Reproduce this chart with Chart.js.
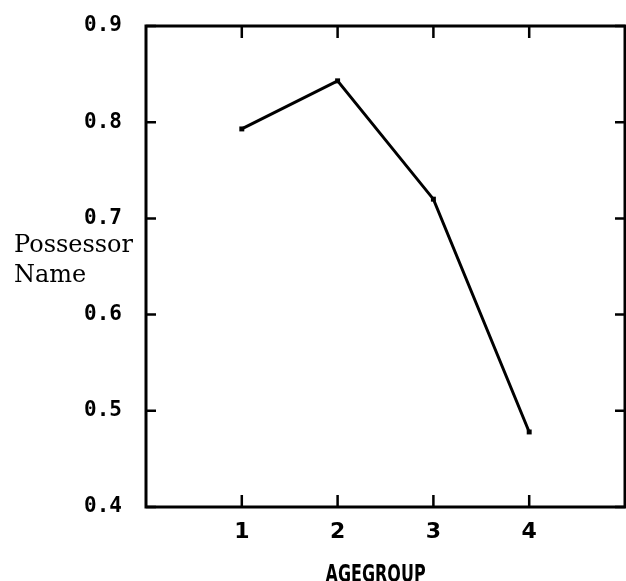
<!DOCTYPE html>
<html>
<head>
<meta charset="utf-8">
<script src="https://cdn.jsdelivr.net/npm/chart.js@4.4.1/dist/chart.umd.min.js"></script>
<style>
  html, body { margin: 0; padding: 0; background: #fff; }
  #wrap { width: 626px; height: 581px; position: relative; }
</style>
</head>
<body>
<div id="wrap"><canvas id="chart"></canvas></div>
<script>
// data
const ageGroups = [1, 2, 3, 4];
const possessorName = [0.793, 0.843, 0.720, 0.478];
const xTickValues = [1, 2, 3, 4];
const yTickValues = [0.4, 0.5, 0.6, 0.7, 0.8, 0.9];
const xTitle = 'AGEGROUP';
const yTitleLines = ['Possessor', 'Name'];

// box around the plot, inward tick marks, axis titles
const framePlugin = {
    id: 'frame',
    afterDraw(chart) {
        const { ctx, chartArea: a, scales } = chart;
        ctx.save();
        ctx.strokeStyle = '#000';
        ctx.lineWidth = 3;
        ctx.strokeRect(a.left, a.top, a.right - a.left, a.bottom - a.top);

        ctx.lineWidth = 2.5;
        ctx.beginPath();
        xTickValues.forEach(v => {
            const px = scales.x.getPixelForValue(v);
            ctx.moveTo(px, a.bottom); ctx.lineTo(px, a.bottom - 12);
            ctx.moveTo(px, a.top); ctx.lineTo(px, a.top + 12);
        });
        yTickValues.forEach(v => {
            const py = scales.y.getPixelForValue(v);
            ctx.moveTo(a.left, py); ctx.lineTo(a.left + 10, py);
            ctx.moveTo(a.right, py); ctx.lineTo(a.right - 10, py);
        });
        ctx.stroke();

        // x title, squeezed to look condensed
        ctx.fillStyle = '#000';
        ctx.font = 'bold 24px "DejaVu Sans", sans-serif';
        ctx.textAlign = 'center';
        ctx.textBaseline = 'alphabetic';
        const w = ctx.measureText(xTitle).width;
        ctx.save();
        ctx.translate(chart.width * 0.6, 582);
        ctx.scale(100 / w, 1);
        ctx.fillText(xTitle, 0, 0);
        ctx.restore();

        // y title, horizontal, two lines
        ctx.font = '24px "DejaVu Serif", serif';
        ctx.textAlign = 'left';
        yTitleLines.forEach((line, i) => {
            ctx.fillText(line, 14, 252 + i * 30);
        });
        ctx.restore();
    }
};

new Chart(document.getElementById('chart'), {
    type: 'line',
    data: {
        datasets: [{
            data: ageGroups.map((g, i) => ({ x: g, y: possessorName[i] })),
            borderColor: '#000',
            backgroundColor: '#000',
            borderWidth: 3,
            pointStyle: 'rect',
            pointRadius: 3.5,
            pointBorderWidth: 0,
            tension: 0,
        }],
    },
    options: {
        responsive: true,
        maintainAspectRatio: false,
        animation: false,
        events: [],
        layout: { autoPadding: false, padding: { top: 26, right: 1, left: 0, bottom: 0 } },
        plugins: {
            legend: { display: false },
            tooltip: { enabled: false },
        },
        scales: {
            x: {
                type: 'linear',
                min: 0,
                max: 5,
                grid: { display: false },
                border: { display: false },
                afterFit(scale) {
                    scale.height = 74;
                    scale.paddingLeft = 0;
                    scale.paddingRight = 0;
                },
                ticks: {
                    stepSize: 1,
                    padding: 4,
                    color: '#000',
                    font: { family: '"DejaVu Sans", sans-serif', size: 22, weight: 'bold' },
                    callback: v => (xTickValues.includes(v) ? String(v) : ''),
                    maxRotation: 0,
                },
            },
            y: {
                min: 0.4,
                max: 0.9,
                grid: { display: false },
                border: { display: false },
                afterFit(scale) {
                    scale.width = 146;
                    scale.paddingTop = 0;
                    scale.paddingBottom = 0;
                },
                ticks: {
                    stepSize: 0.1,
                    padding: 16,
                    color: '#000',
                    font: { family: '"DejaVu Sans Mono", monospace', size: 21, weight: 'bold' },
                    callback: v => v.toFixed(1),
                },
            },
        },
    },
    plugins: [framePlugin],
});
</script>
</body>
</html>
